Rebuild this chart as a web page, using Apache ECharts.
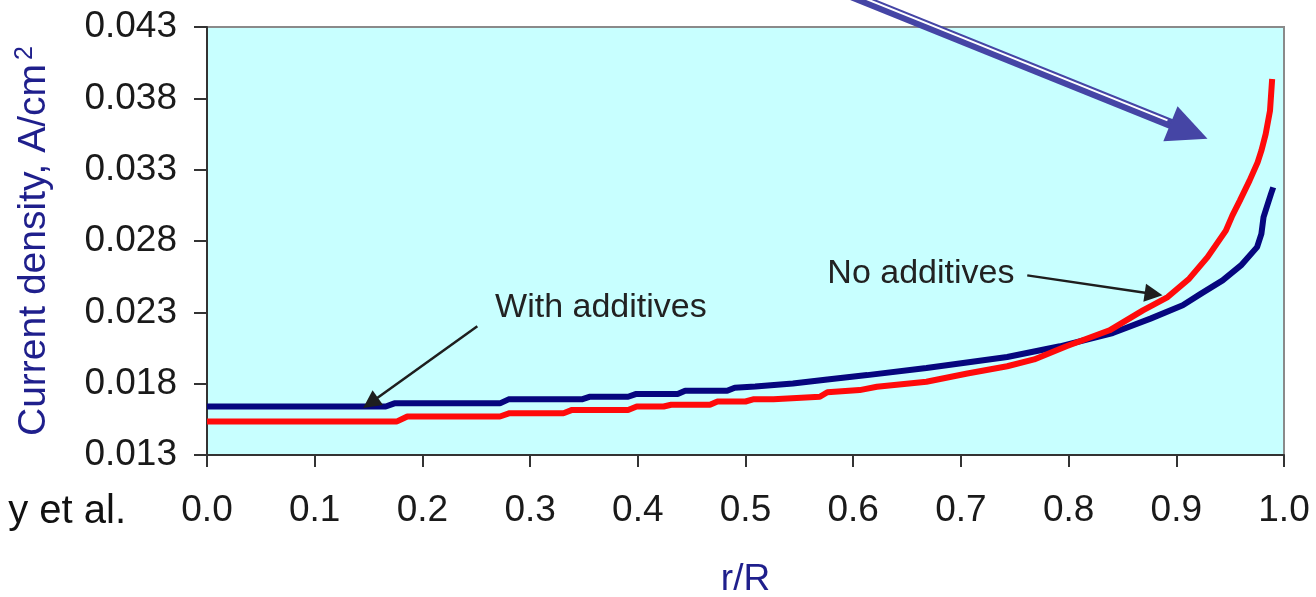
<!DOCTYPE html>
<html>
<head>
<meta charset="utf-8">
<script src="https://cdn.jsdelivr.net/npm/echarts@6/dist/echarts.min.js"></script>
<style>
  html, body { margin: 0; padding: 0; background: #ffffff; }
  #chart { width: 1316px; height: 597px; }
</style>
</head>
<body>
<div id="chart"></div>
<script>
// ---- data ----
const xTicks = [0, 0.1, 0.2, 0.3, 0.4, 0.5, 0.6, 0.7, 0.8, 0.9, 1.0];
const yTicks = [0.013, 0.018, 0.023, 0.028, 0.033, 0.038, 0.043];

// With additives (navy)
const rWith = [0.000, 0.166, 0.174, 0.272, 0.280, 0.348, 0.355, 0.391, 0.398, 0.437, 0.444, 0.483, 0.490, 0.509,
  0.544, 0.576, 0.613, 0.668, 0.743, 0.792, 0.841, 0.876, 0.906, 0.923, 0.943, 0.960, 0.975, 0.979, 0.981, 0.985, 0.988, 0.990];
const jWith = [0.01640, 0.01640, 0.01662, 0.01662, 0.01690, 0.01690, 0.01708, 0.01708, 0.01727, 0.01727, 0.01750, 0.01750, 0.01772, 0.01780,
  0.01801, 0.01829, 0.01860, 0.01910, 0.01987, 0.02062, 0.02155, 0.02256, 0.02349, 0.02431, 0.02524, 0.02629, 0.02757, 0.02850, 0.02967, 0.03062, 0.03132, 0.03176];

// No additives (red)
const rNo = [0.000, 0.176, 0.186, 0.272, 0.281, 0.331, 0.339, 0.391, 0.399, 0.424, 0.431, 0.467, 0.474, 0.500, 0.507, 0.526,
  0.569, 0.576, 0.606, 0.622, 0.668, 0.706, 0.743, 0.768, 0.798, 0.838, 0.869, 0.892, 0.912, 0.929, 0.946, 0.952, 0.959, 0.968, 0.9755, 0.979, 0.983, 0.987, 0.989];
const jNo = [0.01534, 0.01534, 0.01570, 0.01570, 0.01593, 0.01593, 0.01616, 0.01616, 0.01640, 0.01640, 0.01652, 0.01652, 0.01675, 0.01675, 0.01690, 0.01690,
  0.01708, 0.01740, 0.01755, 0.01778, 0.01813, 0.01871, 0.01922, 0.01970, 0.02062, 0.02174, 0.02314, 0.02407, 0.02536, 0.02687, 0.02873, 0.02978, 0.03083, 0.03223, 0.03351, 0.03433, 0.03550, 0.03713, 0.03936];

// annotation anchors (data coordinates)
const withLabelPos = [0.2675, 0.02335];
const withArrow = [[0.251, 0.02202], [0.145, 0.01629]];
const noLabelPos = [0.576, 0.02573];
const noArrow = [[0.7616, 0.02559], [0.8872, 0.02419]];
const bigArrow = [[0.560, 0.04640], [0.929, 0.03517]];

const FONT = "'Liberation Sans', Arial, sans-serif";
const chart = echarts.init(document.getElementById('chart'), null, { renderer: 'canvas' });

const option = {
  backgroundColor: '#ffffff',
  animation: false,
  grid: {
    left: 207, right: 32, top: 27, bottom: 142,
    outerBoundsMode: 'none', containLabel: false,
    show: true, backgroundColor: '#c8ffff', borderColor: '#8a8a8a', borderWidth: 2
  },
  xAxis: {
    type: 'value', min: 0, max: 1, interval: 0.1,
    name: 'r/R', nameLocation: 'middle', nameGap: 106,
    nameTextStyle: { fontFamily: FONT, fontSize: 37, color: '#1f1f8c' },
    axisLine: { show: true, onZero: false, lineStyle: { color: '#333', width: 2 } },
    axisTick: { show: true, length: 12, lineStyle: { color: '#333', width: 2 } },
    axisLabel: { fontFamily: FONT, fontSize: 37, color: '#1a1a1a', margin: 37,
      formatter: v => v.toFixed(1) },
    splitLine: { show: false }
  },
  yAxis: {
    type: 'value', min: 0.013, max: 0.043, interval: 0.005,
    name: '{a|Current density, A/cm}{s|2}', nameLocation: 'middle', nameGap: 151,
    nameRotate: 90,
    nameTextStyle: {
      fontFamily: FONT, fontSize: 39, color: '#1f1f8c',
      rich: {
        a: { fontFamily: FONT, fontSize: 39, color: '#1f1f8c' },
        s: { fontFamily: FONT, fontSize: 25, color: '#1f1f8c', verticalAlign: 'top', padding: [0, 0, 18, 4] }
      }
    },
    axisLine: { show: true, onZero: false, lineStyle: { color: '#333', width: 2 } },
    axisTick: { show: true, length: 13, lineStyle: { color: '#333', width: 2 } },
    axisLabel: { fontFamily: FONT, fontSize: 37, color: '#1a1a1a', margin: 30,
      formatter: v => v.toFixed(3) },
    splitLine: { show: false }
  },
  series: [
    {
      name: 'With additives', type: 'line', showSymbol: false, symbol: 'none',
      data: rWith.map((r, i) => [r, jWith[i]]),
      lineStyle: { color: '#06067e', width: 6 }, z: 3
    },
    {
      name: 'No additives', type: 'line', showSymbol: false, symbol: 'none',
      data: rNo.map((r, i) => [r, jNo[i]]),
      lineStyle: { color: '#ff0a0a', width: 6 }, z: 4
    }
  ]
};
chart.setOption(option);

function px(p) { return chart.convertToPixel({ gridIndex: 0 }, p); }

function arrowGraphics(from, to, color, width, headLen, headHalf) {
  const S = px(from), T = px(to);
  const dx = T[0] - S[0], dy = T[1] - S[1];
  const len = Math.hypot(dx, dy);
  const ux = dx / len, uy = dy / len;
  const nx = uy, ny = -ux;
  const B = [T[0] - ux * headLen, T[1] - uy * headLen];
  return { S, T, B, ux, uy, nx, ny, els: [
    { type: 'line', shape: { x1: S[0], y1: S[1], x2: B[0] + ux * 2, y2: B[1] + uy * 2 },
      style: { stroke: color, lineWidth: width }, z: 100 },
    { type: 'polygon', shape: { points: [T, [B[0] + nx * headHalf, B[1] + ny * headHalf], [B[0] - nx * headHalf, B[1] - ny * headHalf]] },
      style: { fill: color }, z: 101 }
  ] };
}

const g = [];
// big double arrow
const big = arrowGraphics(bigArrow[0], bigArrow[1], '#4545a5', 10, 40, 19);
g.push(...big.els);
g.push({ type: 'line', shape: {
    x1: big.S[0] + big.nx * 2, y1: big.S[1] + big.ny * 2,
    x2: big.B[0] + big.nx * 2 - big.ux * 4, y2: big.B[1] + big.ny * 2 - big.uy * 4 },
  style: { stroke: '#ffffff', lineWidth: 2 }, z: 102 });

// small black arrows
g.push(...arrowGraphics(withArrow[0], withArrow[1], '#1e1e1e', 2.5, 18, 9).els);
g.push(...arrowGraphics(noArrow[0], noArrow[1], '#1e1e1e', 2.5, 18, 9).els);

const wl = px(withLabelPos), nl = px(noLabelPos);
g.push({ type: 'text', x: wl[0], y: wl[1], z: 110,
  style: { text: 'With additives', fontFamily: FONT, fontSize: 34, fill: '#222', align: 'left', verticalAlign: 'middle' } });
g.push({ type: 'text', x: nl[0], y: nl[1], z: 110,
  style: { text: 'No additives', fontFamily: FONT, fontSize: 34, fill: '#222', align: 'left', verticalAlign: 'middle' } });

// cut-off citation fragment at left
g.push({ type: 'text', x: 126, y: 512, z: 110,
  style: { text: 'y et al.', fontFamily: FONT, fontSize: 40, fill: '#111', align: 'right', verticalAlign: 'middle' } });

chart.setOption({ graphic: g });
</script>
</body>
</html>
